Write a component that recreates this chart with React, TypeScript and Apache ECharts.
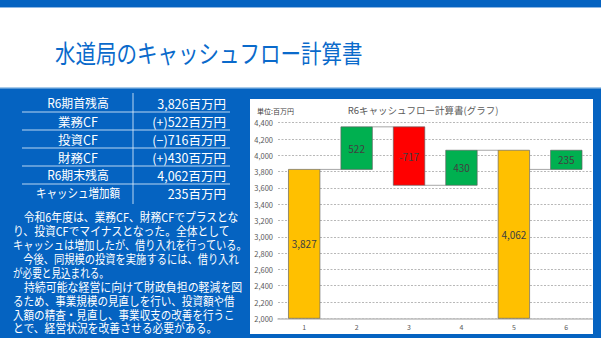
import React, { useEffect, useRef } from 'react';
import * as echarts from 'echarts';

// ---------- data ----------
const categories = ['1', '2', '3', '4', '5', '6'];
const flowValues = [3827, 522, -717, 430, 4062, 235];
const flowKinds = ['total', 'delta', 'delta', 'delta', 'total', 'net'];
const yMin = 2000;
const yMax = 4400;
const yStep = 200;

const titleText = '水道局のキャッシュフロー計算書';
const chartTitle = 'R6キャッシュフロー計算書(グラフ)';
const unitText = '単位:百万円';

const tableLabels = ['R6期首残高', '業務CF', '投資CF', '財務CF', 'R6期末残高', 'キャッシュ増加額'];
const tableValues = ['3,826百万円', '(+)522百万円', '(−)716百万円', '(+)430百万円', '4,062百万円', '235百万円'];

const noteLines = [
  '\u3000令和6年度は、業務CF、財務CFでプラスとな',
  'り、投資CFでマイナスとなった。全体として',
  'キャッシュは増加したが、借り入れを行っている。',
  '\u3000今後、同規模の投資を実施するには、借り入れ',
  'が必要と見込まれる。',
  '\u3000持続可能な経営に向けて財政負担の軽減を図',
  'るため、事業規模の見直しを行い、投資額や借',
  '入額の精査・見直し、事業収支の改善を行うこ',
  'とで、経営状況を改善させる必要がある。',
];

// ---------- layout ----------
const FONT = '"Noto Sans CJK JP", "Noto Sans", sans-serif';
const BLUE = '#0563C1';
const noteScale = [0.9, 0.9, 0.85, 0.856, 0.8, 0.91, 0.88, 0.88, 0.9];
const labelScale = [0.95, 1, 1, 1, 0.95, 0.84];
const valueScale = [1, 1, 1, 1, 1, 1];

function buildBars() {
  const opening = flowValues[0];
  let running = 0;
  const lows: number[] = [];
  const highs: number[] = [];
  const starts: number[] = [];
  flowValues.forEach((v, i) => {
    const k = flowKinds[i];
    if (k === 'total') {
      lows.push(yMin);
      highs.push(v);
      starts.push(v);
      running = v;
    } else if (k === 'delta') {
      const s = running;
      const e = running + v;
      lows.push(Math.min(s, e));
      highs.push(Math.max(s, e));
      starts.push(s);
      running = e;
    } else {
      lows.push(opening);
      highs.push(opening + v);
      starts.push(opening);
    }
  });
  return { lows, highs, starts };
}

export default function App() {
  const ref = useRef<HTMLDivElement>(null);

  useEffect(() => {
    if (!ref.current) return;
    const chart = echarts.init(ref.current, undefined, { renderer: 'svg' });
    const { lows, highs, starts } = buildBars();
    const data = flowValues.map((v, i) => [i, lows[i], highs[i]]);

    const graphics: any[] = [];
    // header
    graphics.push({ type: 'rect', z: 0, shape: { x: 0, y: 7, width: 601, height: 81 }, style: { fill: '#ffffff' } });
    graphics.push({ type: 'rect', z: 0, shape: { x: 0, y: 7, width: 601, height: 1 }, style: { fill: '#8DB7E4' } });
    graphics.push({ type: 'rect', z: 0, shape: { x: 0, y: 87, width: 601, height: 1.5 }, style: { fill: '#A9CBEA' } });
    graphics.push({
      type: 'text', z: 1, x: 55, y: 52, scaleX: 0.82,
      style: { x: 0, y: 0, text: titleText, fill: '#0A6ACB', font: `25px ${FONT}`, align: 'left', verticalAlign: 'middle' },
    });

    // table
    const rowH = 18;
    const row0 = 103;
    for (let i = 0; i < tableLabels.length; i++) {
      const cy = row0 + rowH * i;
      graphics.push({
        type: 'text', z: 1, x: 78, y: cy, scaleX: labelScale[i],
        style: { x: 0, y: 0, text: tableLabels[i], fill: '#ffffff', font: `12.5px ${FONT}`, align: 'center', verticalAlign: 'middle' },
      });
      graphics.push({
        type: 'text', z: 1, x: 226, y: cy, scaleX: valueScale[i],
        style: { x: 0, y: 0, text: tableValues[i], fill: '#ffffff', font: `12.5px ${FONT}`, align: 'right', verticalAlign: 'middle' },
      });
      if (i < tableLabels.length - 1) {
        graphics.push({
          type: 'line', z: 1,
          shape: { x1: 22, y1: cy + rowH / 2, x2: 230, y2: cy + rowH / 2 },
          style: { stroke: 'rgba(220,235,250,0.85)', lineWidth: 1 },
        });
      }
    }
    graphics.push({
      type: 'line', z: 1,
      shape: { x1: 133, y1: 93, x2: 133, y2: 204 },
      style: { stroke: 'rgba(220,235,250,0.85)', lineWidth: 1 },
    });

    // notes
    noteLines.forEach((t, i) => {
      graphics.push({
        type: 'text', z: 1, x: 13, y: 217 + 13.9 * i, scaleX: noteScale[i],
        style: { x: 0, y: 0, text: t, fill: '#ffffff', font: `12px ${FONT}`, align: 'left', verticalAlign: 'middle' },
      });
    });

    // chart panel
    graphics.push({ type: 'rect', z: 0, shape: { x: 250, y: 99, width: 343, height: 235 }, style: { fill: '#ffffff' } });
    graphics.push({
      type: 'text', z: 1, x: 423, y: 110,
      style: { x: 0, y: 0, text: chartTitle, fill: '#595959', font: `9.5px ${FONT}`, align: 'center', verticalAlign: 'middle' },
    });
    graphics.push({
      type: 'text', z: 1, x: 257, y: 111,
      style: { x: 0, y: 0, text: unitText, fill: '#404040', font: `7px ${FONT}`, align: 'left', verticalAlign: 'middle' },
    });

    const option: any = {
      animation: false,
      backgroundColor: BLUE,
      graphic: { elements: graphics },
      grid: { left: 278, right: 8.5, top: 122.7, bottom: 19.7, containLabel: false, outerBoundsMode: 'none' },
      xAxis: {
        type: 'category',
        data: categories,
        z: 3,
        axisLine: { show: true, lineStyle: { color: '#BFBFBF', width: 1.5 } },
        axisTick: { show: false },
        axisLabel: { color: '#595959', fontSize: 7, fontFamily: FONT, margin: 5 },
        splitLine: { show: false },
      },
      yAxis: {
        type: 'value',
        min: yMin,
        max: yMax,
        interval: yStep,
        z: 3,
        axisLine: { show: false },
        axisTick: { show: false },
        axisLabel: {
          color: '#595959', fontSize: 7.5, fontFamily: FONT, margin: 5,
          formatter: (v: number) => v.toLocaleString('en-US'),
        },
        splitLine: { show: true, lineStyle: { color: '#A6A6A6', width: 0.8, type: [2, 1.5] } },
      },
      series: [
        {
          type: 'custom',
          z: 5,
          encode: { x: 0, y: [1, 2] },
          data,
          renderItem: (params: any, api: any) => {
            const idx = api.value(0);
            const low = api.value(1);
            const high = api.value(2);
            const v = flowValues[params.dataIndex];
            const kind = flowKinds[params.dataIndex];
            const bw = api.size([1, 0])[0] * 0.6;
            const top = api.coord([idx, high]);
            const bot = api.coord([idx, Math.max(low, yMin)]);
            const fill = kind === 'total' ? '#FFC000' : v >= 0 ? '#00B050' : '#FF0000';
            const label = kind === 'total' ? v.toLocaleString('en-US') : String(v);
            const children: any[] = [];
            if (params.dataIndex < flowValues.length - 1) {
              const lvl = starts[params.dataIndex + 1];
              const p1 = api.coord([idx, lvl]);
              const p2 = api.coord([idx + 1, lvl]);
              children.push({
                type: 'line',
                shape: { x1: p1[0] + bw / 2, y1: p1[1], x2: p2[0] - bw / 2, y2: p2[1] },
                style: { stroke: '#A6A6A6', lineWidth: 1 },
              });
            }
            children.push({
              type: 'rect',
              shape: { x: top[0] - bw / 2, y: top[1], width: bw, height: bot[1] - top[1] },
              style: { fill, stroke: 'rgba(96,96,96,0.65)', lineWidth: 1 },
            });
            children.push({
              type: 'text',
              style: {
                x: top[0], y: (top[1] + bot[1]) / 2, text: label,
                fill: '#404040', font: `10px ${FONT}`, align: 'center', verticalAlign: 'middle',
              },
            });
            return { type: 'group', children };
          },
        },
      ],
    };
    chart.setOption(option);
    return () => chart.dispose();
  }, []);

  return (
    <div
      ref={ref}
      style={{ position: 'fixed', left: 0, top: 0, width: 601, height: 338 }}
    />
  );
}
